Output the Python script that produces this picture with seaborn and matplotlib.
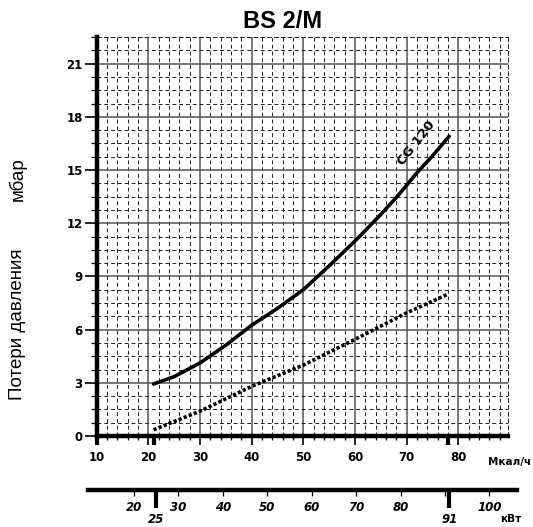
import numpy as np
import pandas as pd
import matplotlib
matplotlib.use("Agg")
import matplotlib.pyplot as plt
import seaborn as sns
from matplotlib.ticker import MultipleLocator, FixedLocator, NullLocator

# ---- data ----
mcal_solid = [21, 25, 30, 35, 40, 45, 50, 55, 60, 62.2, 65, 68.3, 72, 75, 78.2]
dp_solid = [2.93, 3.35, 4.12, 5.12, 6.25, 7.2, 8.25, 9.6, 11.0, 11.65, 12.5, 13.55, 14.85, 15.8, 16.9]
mcal_dotted = [21, 30, 40, 50, 60, 70, 78]
dp_dotted = [0.35, 1.4, 2.8, 4.0, 5.45, 6.95, 8.0]
curve_label = "CG 120"

x_major = [10, 20, 30, 40, 50, 60, 70, 80]
y_major = [0, 3, 6, 9, 12, 15, 18, 21]
mcal_marks = [10, 21, 78]
kw_ticks = [20, 30, 40, 50, 60, 70, 80, 90, 100]
kw_tick_labels = ["20", "30", "40", "50", "60", "70", "80", "", "100"]
kw_marks = [25, 91]

title = "BS 2/M"
ylabel_main = "Потери давления"
ylabel_unit = "мбар"
x_unit = "Мкал/ч"
kw_unit = "кВт"

df_solid = pd.DataFrame({"x": mcal_solid, "y": dp_solid})
df_dot = pd.DataFrame({"x": mcal_dotted, "y": dp_dotted})

sns.set_theme(style="white")
plt.rcParams["font.family"] = ["DejaVu Sans"]
plt.rcParams["text.color"] = "black"
plt.rcParams["axes.labelcolor"] = "black"
plt.rcParams["xtick.color"] = "black"
plt.rcParams["ytick.color"] = "black"

W, H = 533, 527
fig = plt.figure(figsize=(W / 100, H / 100), dpi=100)

# main axes
L, R, T, B = 96.7, 508, 37, 436
ax = fig.add_axes([L / W, 1 - B / H, (R - L) / W, (B - T) / H])
ax.set_facecolor("white")

sns.lineplot(data=df_solid, x="x", y="y", ax=ax, color="black", lw=2.6,
             estimator=None, sort=False, zorder=5)
sns.lineplot(data=df_dot, x="x", y="y", ax=ax, color="black", lw=2.6,
             estimator=None, sort=False, zorder=5)
ax.lines[-1].set_linestyle((0, (0.9, 0.6)))

ax.set_xlim(10, 89.6)
ax.set_ylim(0, 22.5)
ax.xaxis.set_major_locator(FixedLocator(x_major))
ax.yaxis.set_major_locator(FixedLocator(y_major))
ax.xaxis.set_minor_locator(MultipleLocator(2))
ax.yaxis.set_minor_locator(MultipleLocator(0.75))

ax.grid(which="minor", color="#222222", lw=0.7, ls=(0, (4, 3)), zorder=0)
ax.grid(which="major", color="#555555", lw=1.1, ls="-", zorder=1)
ax.set_axisbelow(True)

for s in ["top", "right"]:
    ax.spines[s].set_linestyle((0, (4, 3)))
    ax.spines[s].set_linewidth(0.7)
    ax.spines[s].set_color("#222222")
for s in ["left", "bottom"]:
    ax.spines[s].set_linewidth(3.2)
    ax.spines[s].set_color("black")
    ax.spines[s].set_zorder(6)

ax.tick_params(axis="x", which="major", direction="out", length=6.5, width=1.2,
               color="black", pad=4, labelsize=8.5, bottom=True, labelcolor="black")
ax.tick_params(axis="x", which="minor", direction="out", length=3, width=0.9,
               color="black", bottom=True)
ax.tick_params(axis="y", which="major", direction="out", length=8.5, width=1.2,
               color="black", pad=1.5, labelsize=8.5, left=True, labelcolor="black")
ax.tick_params(axis="y", which="minor", direction="out", length=4, width=0.9,
               color="black", left=True)
for lab in ax.get_xticklabels() + ax.get_yticklabels():
    lab.set_fontweight("bold")
ax.set_xlabel("")
ax.set_ylabel("")

# thick marks on the Mcal axis
sec = ax.secondary_xaxis("bottom")
sec.xaxis.set_major_locator(FixedLocator(mcal_marks))
sec.xaxis.set_minor_locator(NullLocator())
sec.tick_params(axis="x", length=6.5, width=3, labelbottom=False, color="black")
sec.spines["bottom"].set_visible(False)

# curve label
ax.text(71.9, 16.5, curve_label, rotation=52, rotation_mode="anchor",
        ha="center", va="center", fontsize=9.5, fontweight="bold", color="black",
        zorder=7)

# unit label of Mcal axis
fig.text(488 / W, 1 - 461.5 / H, x_unit, ha="left", va="center",
         fontsize=7.5, fontweight="bold", color="black")

# kW axis
kL, kR, kY = 87.7, 517, 490
ax2 = fig.add_axes([kL / W, 1 - kY / H, (kR - kL) / W, 0.0001])
ax2.set_facecolor("none")
for s in ["top", "left", "right"]:
    ax2.spines[s].set_visible(False)
ax2.spines["bottom"].set_linewidth(3.2)
ax2.spines["bottom"].set_color("black")
ax2.set_xlim(9.6, 106.2)
ax2.set_ylim(0, 1)
ax2.yaxis.set_major_locator(NullLocator())
ax2.xaxis.set_major_locator(FixedLocator(kw_ticks))
ax2.set_xticklabels(kw_tick_labels)
ax2.xaxis.set_minor_locator(NullLocator())
ax2.tick_params(axis="x", direction="out", length=4.5, width=0.9, color="black",
                pad=3.5, labelsize=8.5, bottom=True, labelcolor="black")
for lab in ax2.get_xticklabels():
    lab.set_fontweight("bold")
    lab.set_fontstyle("italic")
sec2 = ax2.secondary_xaxis("bottom")
sec2.xaxis.set_major_locator(FixedLocator(kw_marks))
sec2.xaxis.set_minor_locator(NullLocator())
sec2.tick_params(axis="x", length=13, width=3, color="black", pad=3.5,
                 labelsize=8.5, labelcolor="black")
sec2.spines["bottom"].set_visible(False)
for lab in sec2.get_xticklabels():
    lab.set_fontweight("bold")
    lab.set_fontstyle("italic")

fig.text(511 / W, 1 - 519 / H, kw_unit, ha="center", va="center",
         fontsize=7.5, fontweight="bold", color="black")

# title
fig.text(282.5 / W, 1 - 21.7 / H, title, ha="center", va="center",
         fontsize=17, fontweight="bold", family="Liberation Sans", color="black")

# y labels
fig.text(18 / W, 1 - 324 / H, ylabel_main, rotation=90, ha="center", va="center",
         fontsize=13.5, family="Liberation Sans", color="black")
fig.text(18 / W, 1 - 179 / H, ylabel_unit, rotation=90, ha="center", va="center",
         fontsize=13.5, family="Liberation Sans", color="black")

fig.savefig("out.png", dpi=100)
